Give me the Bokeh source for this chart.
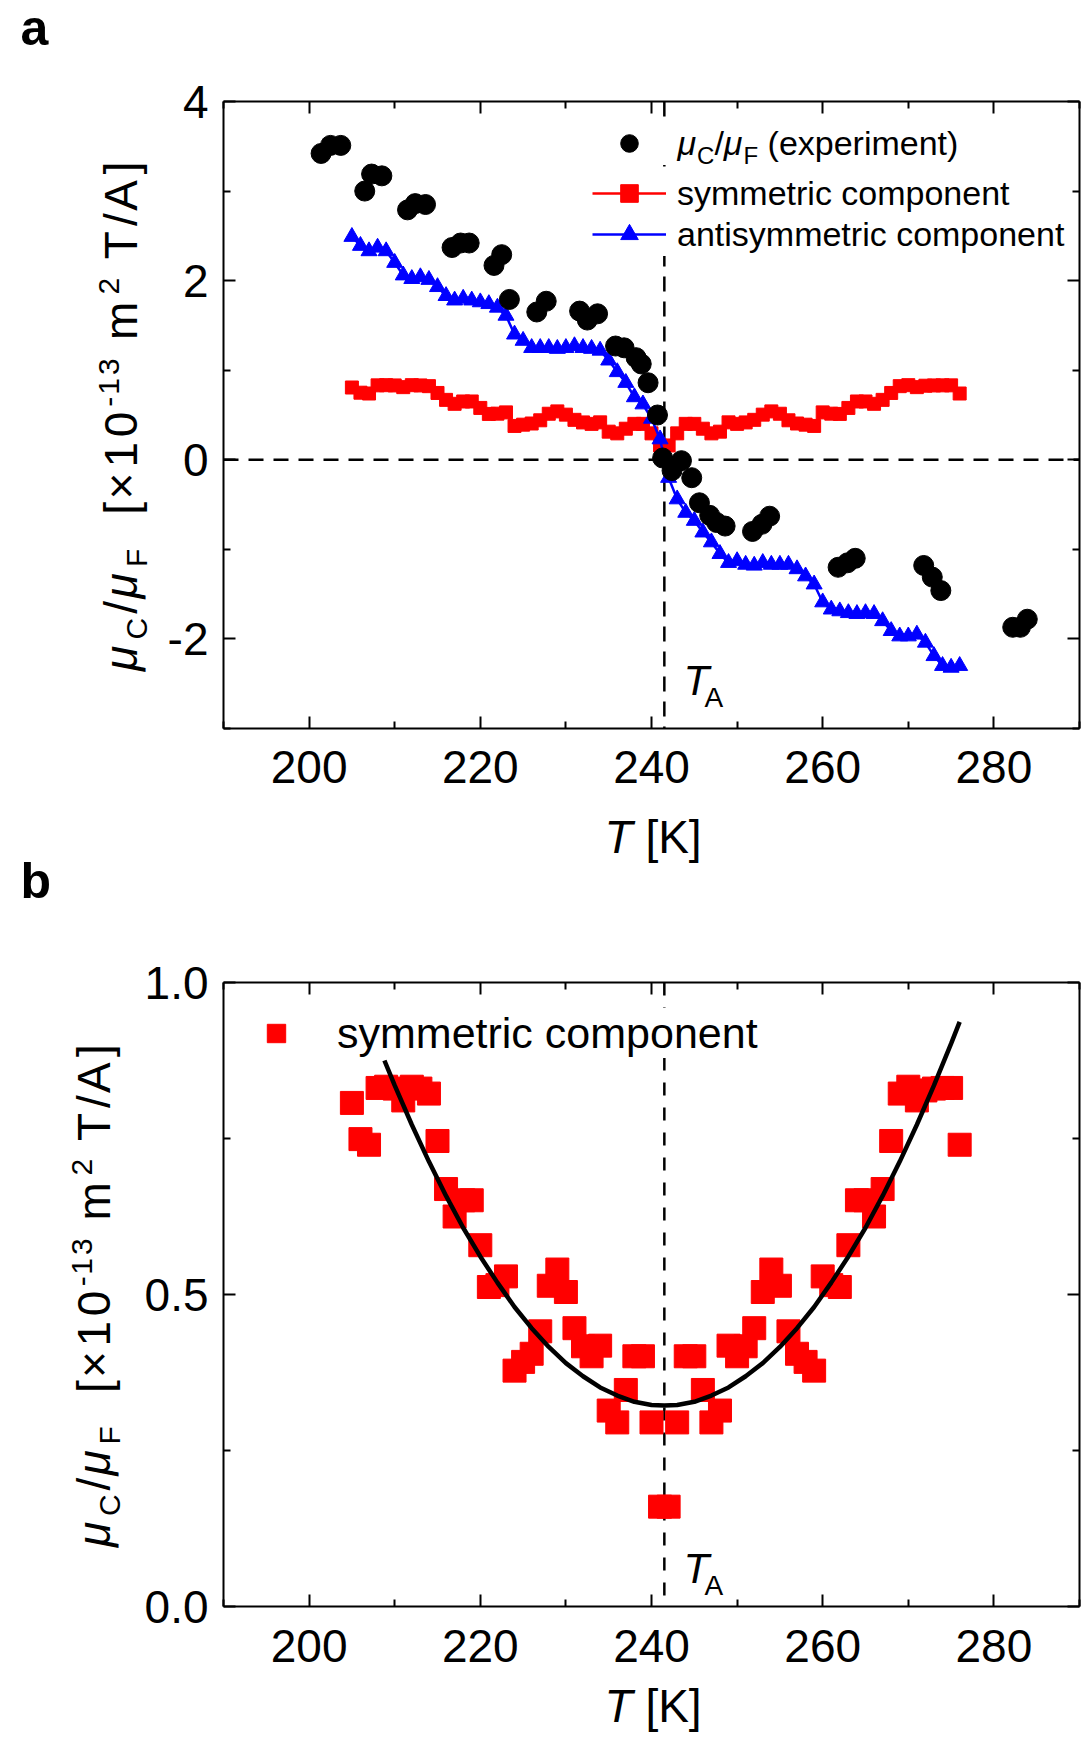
import math
from bokeh.plotting import figure
from bokeh.models import (FixedTicker, LinearAxis, Span, Label, Legend, LegendItem, Range1d)
from bokeh.layouts import column, row
from bokeh.embed import file_html
from bokeh.resources import INLINE

# ---------------- data ----------------
exp_T = [201.4, 202.5, 203.7, 206.5, 207.3, 208.5, 211.5, 212.4, 213.6, 216.7, 217.7, 218.7,
         221.6, 222.5, 223.4, 226.6, 227.7, 231.6, 232.5, 233.7, 235.8, 236.8, 238.2, 238.8,
         239.6, 240.7, 241.3, 242.4, 243.5, 244.7, 245.6, 246.8, 247.6, 248.6, 251.8, 252.9,
         253.8, 261.8, 262.9, 263.8, 271.8, 272.8, 273.8, 282.2, 283.1, 283.9]
exp_mu = [3.42, 3.51, 3.51, 3.00, 3.19, 3.17, 2.79, 2.86, 2.85, 2.37, 2.42, 2.42,
          2.17, 2.29, 1.79, 1.65, 1.77, 1.66, 1.56, 1.63, 1.27, 1.25, 1.14, 1.07,
          0.86, 0.50, 0.02, -0.12, -0.01, -0.20, -0.48, -0.62, -0.70, -0.74, -0.80, -0.72,
          -0.63, -1.20, -1.15, -1.10, -1.18, -1.31, -1.46, -1.87, -1.87, -1.78]

comp_T = list(range(205, 277))
sym_mu = [0.807, 0.749, 0.740, 0.831, 0.833, 0.830, 0.811, 0.833, 0.830, 0.822,
          0.746, 0.669, 0.625, 0.651, 0.651, 0.579, 0.512, 0.515, 0.529, 0.378,
          0.392, 0.405, 0.441, 0.514, 0.540, 0.504, 0.446, 0.417, 0.401, 0.418,
          0.314, 0.295, 0.347, 0.401, 0.401, 0.295, 0.160, 0.160, 0.295, 0.401,
          0.401, 0.347, 0.295, 0.314, 0.418, 0.401, 0.417, 0.446, 0.504, 0.540,
          0.514, 0.441, 0.405, 0.392, 0.378, 0.529, 0.515, 0.512, 0.579, 0.651,
          0.651, 0.625, 0.669, 0.746, 0.822, 0.833, 0.811, 0.827, 0.830, 0.831,
          0.831, 0.740]
anti_mu = [2.49, 2.39, 2.33, 2.37, 2.33, 2.20, 2.06, 2.02, 2.04, 2.01,
           1.93, 1.83, 1.78, 1.80, 1.78, 1.76, 1.74, 1.70, 1.61, 1.40,
           1.33, 1.25, 1.25, 1.25, 1.24, 1.25, 1.27, 1.25, 1.24, 1.22,
           1.11, 0.98, 0.86, 0.70, 0.62, 0.46, 0.23, -0.20, -0.44, -0.59,
           -0.68, -0.81, -0.92, -1.05, -1.15, -1.13, -1.17, -1.18, -1.15, -1.17,
           -1.17, -1.17, -1.22, -1.30, -1.39, -1.59, -1.67, -1.69, -1.71, -1.72,
           -1.71, -1.72, -1.80, -1.91, -1.97, -1.97, -1.95, -2.04, -2.19, -2.30,
           -2.32, -2.30]

fit_T = [208.8, 210, 212, 214, 216, 218, 220, 222, 224, 226, 228, 230, 232, 234, 236, 238,
         240, 241.5, 243, 245, 247, 249, 251, 253, 255, 257, 259, 261, 263, 265, 267, 269,
         271, 273, 275, 276]
fit_mu = [0.875, 0.835, 0.772, 0.713, 0.658, 0.607, 0.561, 0.519, 0.480, 0.446, 0.416, 0.390,
          0.369, 0.351, 0.338, 0.328, 0.323, 0.322, 0.323, 0.328, 0.338, 0.351, 0.369, 0.390,
          0.416, 0.446, 0.480, 0.519, 0.561, 0.607, 0.658, 0.713, 0.772, 0.835, 0.902, 0.937]

T_A = 241.5
x_major = [200, 220, 240, 260, 280]
x_minor = [190, 210, 230, 250, 270, 290]
ya_major = [-2, 0, 2, 4]
ya_minor = [-3, -1, 1, 3]
ya_labels = {-2: "-2", 0: "0", 2: "2", 4: "4"}
yb_major = [0.0, 0.5, 1.0]
yb_minor = [0.25, 0.75]
yb_labels = {0: "0.0", 0.5: "0.5", 1: "1.0"}

FONT = "Liberation Sans"
CW = {'μ': 0.576, 'C': 0.722, 'F': 0.611, '/': 0.278, ' ': 0.278, '\u00a0': 0.278,
      '[': 0.278, ']': 0.278, '×': 0.584, '-': 0.333, 'm': 0.833, 'T': 0.611, 'A': 0.667,
      'K': 0.667, '(': 0.333, ')': 0.333, 'e': 0.556, 'x': 0.5, 'p': 0.556, 'r': 0.333,
      'i': 0.222, 'n': 0.556, 't': 0.278}
BASE = 0.4   # observed downward offset of a Label's baseline, in em


def tw(s, size):
    return sum(CW.get(c, 0.556) for c in s) * size


def lab(p, x, y, text, size, style="normal", rotated=False):
    # x, y: wanted baseline start, screen px from frame bottom-left
    if rotated:
        x = x - BASE * size
    else:
        y = y + BASE * size
    p.add_layout(Label(x=x, y=y, x_units="screen", y_units="screen", text=text,
                       text_font=FONT, text_font_size=f"{size}px",
                       text_font_style=style, text_color="black",
                       angle=(math.pi / 2 if rotated else 0.0),
                       text_align="left", text_baseline="alphabetic"))


def hlabel(p, x, y, segs):
    for text, size, dy, style in segs:
        lab(p, x, y + dy, text, size, style)
        x += tw(text, size)


def vlabel(p, x, yc, segs, length):
    natural = sum(tw(t, s) for t, s, _, _ in segs)
    k = length / natural
    y = yc - length / 2.0
    for text, size, dx, style in segs:
        for ch in text:
            if ch.strip():
                lab(p, x + dx, y, ch, size, style, rotated=True)
            y += tw(ch, size) * k


def add_axis(p, side, major, minor, show, overrides=None, standoff=20):
    ax = LinearAxis(ticker=FixedTicker(ticks=major, minor_ticks=minor))
    ax.axis_line_width = 2
    ax.axis_line_color = "black"
    ax.major_tick_line_width = 2
    ax.minor_tick_line_width = 2
    ax.major_tick_in = 12
    ax.major_tick_out = 0
    ax.minor_tick_in = 7
    ax.minor_tick_out = 0
    ax.major_label_text_font = FONT
    ax.major_label_text_color = "black"
    if show:
        ax.major_label_text_font_size = "46px"
        ax.major_label_standoff = standoff
        if overrides:
            ax.major_label_overrides = overrides
    else:
        ax.major_label_text_font_size = "10px"
        ax.major_label_standoff = 0
        ax.major_label_overrides = {t: "" for t in major}
    p.add_layout(ax, side)
    return ax


def main_fig(y0, y1, frame_h, left, top, bottom):
    p = figure(frame_width=856, frame_height=frame_h, x_range=Range1d(190, 290),
               y_range=Range1d(y0, y1), output_backend="svg", toolbar_location=None,
               min_border_left=left, min_border_right=4, min_border_top=top,
               min_border_bottom=bottom, x_axis_location=None, y_axis_location=None)
    p.xgrid.visible = False
    p.ygrid.visible = False
    p.outline_line_color = None
    p.background_fill_color = "white"
    p.border_fill_color = "white"
    return p


def text_fig(w, h, top=0, bottom=0):
    f = figure(width=w, height=h, min_border=0, min_border_left=0, min_border_right=0,
               min_border_top=top, min_border_bottom=bottom, x_range=Range1d(0, 1),
               y_range=Range1d(0, 1), x_axis_location=None, y_axis_location=None,
               toolbar_location=None, output_backend="svg")
    f.xgrid.visible = False
    f.ygrid.visible = False
    f.outline_line_color = None
    f.background_fill_color = "white"
    f.border_fill_color = "white"
    return f


def one_legend(p, item, x, y, gw, h, standoff, fsize, lw=20):
    leg = Legend(items=[item], location=(x, y), orientation="vertical", glyph_width=gw,
                 glyph_height=h, label_height=h, label_width=lw, label_standoff=standoff,
                 padding=0, margin=0, spacing=0, border_line_color=None,
                 background_fill_color="white", background_fill_alpha=1.0,
                 label_text_font=FONT, label_text_font_size=f"{fsize}px",
                 label_text_color="black")
    p.add_layout(leg)
    return leg


ylab_segs = [("μ", 46, 0, "italic"), ("C", 30, 9, "normal"), ("/", 46, 0, "normal"),
             ("μ", 46, 0, "italic"), ("F", 30, 9, "normal"), ("  [×10", 46, 0, "normal"),
             ("-13", 30, -19, "normal"), (" m", 46, 0, "normal"), ("2", 30, -19, "normal"),
             (" T/A]", 46, 0, "normal")]

W_TOTAL = 1083

# ---------------- panel a ----------------
SA_H = 60                       # strip with the panel letter: page 0..60
A_LEFTW = 156
A_TOP = 101 - SA_H
A_FH = 627
A_BOT = 76
A_H = A_TOP + A_FH + A_BOT      # page 60..804

sa = text_fig(W_TOTAL, SA_H)
lab(sa, 20, SA_H - 47, "a", 50, "bold")

pa = main_fig(-3, 4, A_FH, 223 - A_LEFTW, A_TOP, A_BOT)
add_axis(pa, "below", x_major, x_minor, True, standoff=22)
add_axis(pa, "above", x_major, x_minor, False)
add_axis(pa, "left", ya_major, ya_minor, True, ya_labels, standoff=15)
add_axis(pa, "right", ya_major, ya_minor, False)

pa.add_layout(Span(location=0, dimension="width", line_color="black", line_width=2.5,
                   line_dash="15 10", level="underlay"))
pa.add_layout(Span(location=T_A, dimension="height", line_color="black", line_width=2.5,
                   line_dash="15 10", level="underlay"))

r_sym_l = pa.line(comp_T, sym_mu, line_color="#ff0000", line_width=2.5)
r_sym_s = pa.scatter(comp_T, sym_mu, marker="square", size=13, fill_color="#ff0000",
                     line_color="#ff0000")
r_anti_l = pa.line(comp_T, anti_mu, line_color="#0000ff", line_width=2.5)
r_anti_s = pa.scatter(comp_T, anti_mu, marker="triangle", size=16, fill_color="#0000ff",
                      line_color="#0000ff")
r_exp = pa.scatter(exp_T, exp_mu, marker="circle", size=20, fill_color="black",
                   line_color="black")

one_legend(pa, LegendItem(label=" ", renderers=[r_exp]), 369, 728 - 165, 74, 44, 0, 34, lw=1)
one_legend(pa, LegendItem(label="symmetric component", renderers=[r_sym_l, r_sym_s]),
           369, 728 - 215, 74, 44, 11, 34)
one_legend(pa, LegendItem(label="antisymmetric component", renderers=[r_anti_l, r_anti_s]),
           369, 728 - 256, 74, 44, 11, 34)

hlabel(pa, 677 - 223, 728 - 156, [("μ", 34, 0, "italic"), ("C", 24, -9, "normal"),
                                  ("/", 34, 0, "normal"), ("μ", 34, 0, "italic"),
                                  ("F", 24, -9, "normal"),
                                  ("\u00a0(experiment)", 34, 0, "normal")])

lab(pa, 683 - 223, 728 - 697, "T", 42, "italic")
lab(pa, 704 - 223, 728 - 708, "A", 28)

la = text_fig(A_LEFTW, A_H, top=A_TOP, bottom=A_BOT)      # frame: page y 101..728
vlabel(la, 139, 728 - 414.5, ylab_segs, 512)

# x label of panel a and the letter b share one strip: page 804..910
XA_TOP = SA_H + A_H
XA_H = 910 - XA_TOP
xa = text_fig(W_TOTAL, XA_H)
hlabel(xa, 604, 910 - 855, [("T", 46, 0, "italic"), ("\u00a0[K]", 46, 0, "normal")])
lab(xa, 20, 910 - 900, "b", 50, "bold")

# ---------------- panel b ----------------
B_LEFTW = 130
B_TOP = 982 - 910
B_FH = 624
B_BOT = 74
B_H = B_TOP + B_FH + B_BOT
B_PAGE_BOT = 910 + B_H                                    # 1680

pb = main_fig(0, 1.0, B_FH, 223 - B_LEFTW, B_TOP, B_BOT)
add_axis(pb, "below", x_major, x_minor, True, standoff=23)
add_axis(pb, "above", x_major, x_minor, False)
add_axis(pb, "left", yb_major, yb_minor, True, yb_labels, standoff=15)
add_axis(pb, "right", yb_major, yb_minor, False)

pb.add_layout(Span(location=T_A, dimension="height", line_color="black", line_width=2.5,
                   line_dash="13 12", level="underlay"))

rb_sym = pb.scatter(comp_T, sym_mu, marker="square", size=23, fill_color="#ff0000",
                    line_color="#ff0000")
pb.line(fit_T, fit_mu, line_color="black", line_width=4.5)

one_legend(pb, LegendItem(label="symmetric component", renderers=[rb_sym]),
           253 - 223, 1606 - 1058, 46, 50, 38, 43)

lab(pb, 683 - 223, 1606 - 1585, "T", 42, "italic")
lab(pb, 704 - 223, 1606 - 1596, "A", 28)

lb = text_fig(B_LEFTW, B_H, top=B_TOP, bottom=B_BOT)      # frame: page y 982..1606
vlabel(lb, 112, 1606 - 1294, ylab_segs, 505)

XB_H = 1745 - B_PAGE_BOT
xb = text_fig(W_TOTAL, XB_H)                              # page 1680..1745
hlabel(xb, 604, 1745 - 1724, [("T", 46, 0, "italic"), ("\u00a0[K]", 46, 0, "normal")])

layout = column(sa, row(la, pa, spacing=0), xa, row(lb, pb, spacing=0), xb, spacing=0)
open("out.html", "w").write(file_html(layout, INLINE))
